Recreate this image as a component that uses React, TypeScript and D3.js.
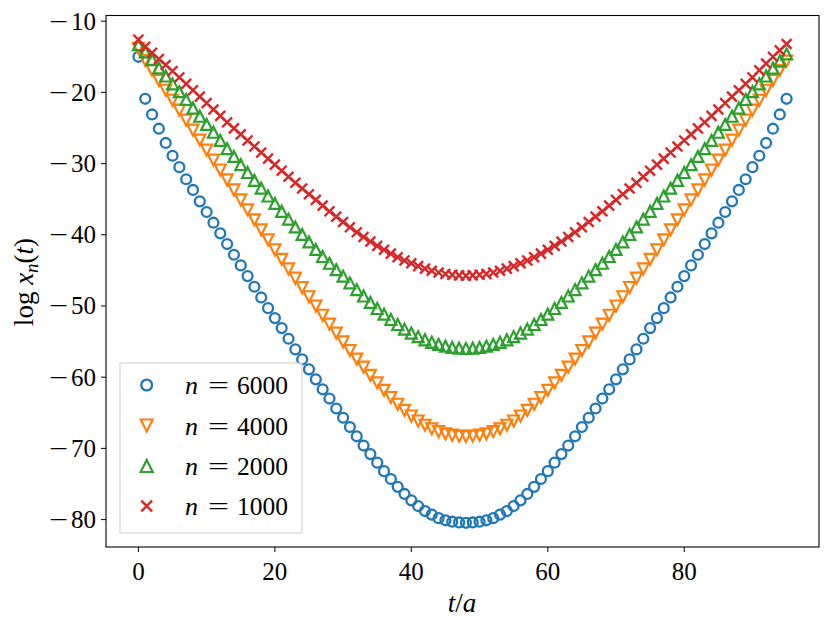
import React from 'react';
import * as d3 from 'd3';

const T_VALUES: number[] = d3.range(0, 96);

const BLUE_6000 = [
  -15.0, -20.9, -23.1, -25.1, -27.1, -28.9, -30.5, -32.2, -33.7, -35.3,
  -36.8, -38.3, -39.8, -41.3, -42.8, -44.3, -45.8, -47.3, -48.8, -50.3,
  -51.7, -53.1, -54.6, -56.1, -57.5, -58.9, -60.3, -61.7, -63.0, -64.4,
  -65.7, -67.0, -68.3, -69.6, -70.8, -72.0, -73.2, -74.3, -75.4, -76.4,
  -77.3, -78.1, -78.8, -79.3, -79.8, -80.1, -80.3, -80.4, -80.45, -80.4,
  -80.3, -80.1, -79.8, -79.3, -78.8, -78.1, -77.3, -76.4, -75.4, -74.3,
  -73.2, -72.0, -70.8, -69.6, -68.3, -67.0, -65.7, -64.4, -63.0, -61.7,
  -60.3, -58.9, -57.5, -56.1, -54.6, -53.1, -51.7, -50.3, -48.8, -47.3,
  -45.8, -44.3, -42.8, -41.3, -39.8, -38.3, -36.8, -35.3, -33.7, -32.2,
  -30.5, -28.9, -27.1, -25.1, -23.1, -20.9,
];

const ORANGE_4000 = [
  -13.8, -15.5, -16.9, -18.3, -19.7, -21.1, -22.5, -23.9, -25.3, -26.7,
  -28.1, -29.5, -30.9, -32.3, -33.7, -35.1, -36.5, -37.9, -39.3, -40.7,
  -42.1, -43.45, -44.8, -46.1, -47.4, -48.7, -50.0, -51.3, -52.55, -53.8,
  -55.05, -56.25, -57.45, -58.6, -59.75, -60.8, -61.85, -62.85, -63.8, -64.65,
  -65.45, -66.15, -66.75, -67.25, -67.65, -67.95, -68.15, -68.28, -68.32, -68.28,
  -68.15, -67.95, -67.65, -67.25, -66.75, -66.15, -65.45, -64.65, -63.8, -62.85,
  -61.85, -60.8, -59.75, -58.6, -57.45, -56.25, -55.05, -53.8, -52.55, -51.3,
  -50.0, -48.7, -47.4, -46.1, -44.8, -43.45, -42.1, -40.7, -39.3, -37.9,
  -36.5, -35.1, -33.7, -32.3, -30.9, -29.5, -28.1, -26.7, -25.3, -23.9,
  -22.5, -21.1, -19.7, -18.3, -16.9, -15.6,
];

const GREEN_2000 = [
  -13.3, -14.3, -15.4, -16.55, -17.7, -18.8, -19.9, -21.0, -22.2, -23.35,
  -24.5, -25.6, -26.75, -27.9, -29.0, -30.15, -31.25, -32.35, -33.45, -34.55,
  -35.6, -36.7, -37.8, -38.9, -39.95, -41.0, -42.05, -43.05, -44.0, -44.9,
  -45.8, -46.75, -47.7, -48.6, -49.5, -50.35, -51.15, -51.9, -52.6, -53.25,
  -53.8, -54.3, -54.75, -55.1, -55.4, -55.65, -55.82, -55.93, -55.97, -55.93,
  -55.82, -55.65, -55.4, -55.1, -54.75, -54.3, -53.8, -53.25, -52.6, -51.9,
  -51.15, -50.35, -49.5, -48.6, -47.7, -46.75, -45.8, -44.9, -44.0, -43.05,
  -42.05, -41.0, -39.95, -38.9, -37.8, -36.7, -35.6, -34.55, -33.45, -32.35,
  -31.25, -30.15, -29.0, -27.9, -26.75, -25.6, -24.5, -23.35, -22.2, -21.0,
  -19.9, -18.8, -17.7, -16.6, -15.6, -14.6,
];

const RED_1000 = [
  -12.6, -13.6, -14.45, -15.3, -16.15, -17.0, -17.9, -18.8, -19.7, -20.6,
  -21.5, -22.4, -23.3, -24.2, -25.05, -25.9, -26.75, -27.6, -28.45, -29.3,
  -30.15, -31.0, -31.85, -32.7, -33.5, -34.3, -35.1, -35.9, -36.7, -37.45,
  -38.2, -38.95, -39.65, -40.3, -40.95, -41.55, -42.1, -42.65, -43.15, -43.6,
  -44.0, -44.4, -44.75, -45.05, -45.3, -45.5, -45.62, -45.7, -45.75, -45.7,
  -45.62, -45.5, -45.3, -45.05, -44.75, -44.4, -44.0, -43.6, -43.15, -42.65,
  -42.1, -41.55, -40.95, -40.3, -39.65, -38.95, -38.2, -37.45, -36.7, -35.9,
  -35.1, -34.3, -33.5, -32.7, -31.85, -31.0, -30.15, -29.3, -28.45, -27.6,
  -26.75, -25.9, -25.05, -24.2, -23.3, -22.4, -21.5, -20.6, -19.7, -18.8,
  -17.9, -16.9, -15.95, -15.0, -14.1, -13.2,
];

const X_TICKS = [0, 20, 40, 60, 80];
const Y_TICKS = [-80, -70, -60, -50, -40, -30, -20, -10];
const LEGEND_LABELS = ['6000', '4000', '2000', '1000'];

type MarkerKind = 'circle' | 'tri-down' | 'tri-up' | 'cross';

const SERIES: { values: number[]; color: string; marker: MarkerKind; label: string }[] = [
  { values: BLUE_6000, color: '#1f77b4', marker: 'circle', label: LEGEND_LABELS[0] },
  { values: ORANGE_4000, color: '#ff7f0e', marker: 'tri-down', label: LEGEND_LABELS[1] },
  { values: GREEN_2000, color: '#2ca02c', marker: 'tri-up', label: LEGEND_LABELS[2] },
  { values: RED_1000, color: '#d62728', marker: 'cross', label: LEGEND_LABELS[3] },
];

const FONT = "'Liberation Serif', 'DejaVu Serif', serif";

function Marker({ kind, x, y, color, s }: { kind: MarkerKind; x: number; y: number; color: string; s: number }) {
  const h = s / 2;
  if (kind === 'circle') {
    return <circle cx={x} cy={y} r={h * 0.9} fill="none" stroke={color} strokeWidth={2.3} />;
  }
  if (kind === 'tri-down') {
    return (
      <path
        d={`M${x - h},${y - h}L${x + h},${y - h}L${x},${y + h}Z`}
        fill="none"
        stroke={color}
        strokeWidth={2.2}
        strokeLinejoin="miter"
      />
    );
  }
  if (kind === 'tri-up') {
    return (
      <path
        d={`M${x - h},${y + h}L${x + h},${y + h}L${x},${y - h}Z`}
        fill="none"
        stroke={color}
        strokeWidth={2.2}
        strokeLinejoin="miter"
      />
    );
  }
  const c = h * 0.9;
  return (
    <path
      d={`M${x - c},${y - c}L${x + c},${y + c}M${x - c},${y + c}L${x + c},${y - c}`}
      stroke={color}
      strokeWidth={2.4}
      fill="none"
    />
  );
}

export default function App() {
  const W = 831;
  const H = 630;
  const left = 106;
  const right = 819;
  const top = 15.5;
  const bottom = 547;

  const x = d3.scaleLinear().domain([-4.75, 99.75]).range([left, right]);
  const y = d3.scaleLinear().domain([-83.85, -9.2]).range([bottom, top]);

  const legend = { x: 120, y: 363, w: 182, h: 170 };
  const rowY = [385, 425.5, 466, 506];

  return (
    <svg
      width={W}
      height={H}
      viewBox={`0 0 ${W} ${H}`}
      style={{ position: 'absolute', left: 0, top: 0, background: '#fff' }}
      fontFamily={FONT}
    >
      <rect x={0} y={0} width={W} height={H} fill="#fff" />

      {SERIES.map((s) => (
        <g key={s.label}>
          {s.values.map((v, i) => (
            <Marker key={i} kind={s.marker} x={x(T_VALUES[i])} y={y(v)} color={s.color} s={11} />
          ))}
        </g>
      ))}

      {/* spines */}
      <rect x={left} y={top} width={right - left} height={bottom - top} fill="none" stroke="#000" strokeWidth={1.1} />

      {/* x ticks */}
      {X_TICKS.map((t) => (
        <g key={`x${t}`}>
          <line x1={x(t)} x2={x(t)} y1={bottom} y2={bottom + 5} stroke="#000" strokeWidth={1} />
          <text x={x(t)} y={580} textAnchor="middle" fontSize={25}>
            {t}
          </text>
        </g>
      ))}

      {/* y ticks */}
      {Y_TICKS.map((t) => (
        <g key={`y${t}`}>
          <line x1={left - 5} x2={left} y1={y(t)} y2={y(t)} stroke="#000" strokeWidth={1} />
          <text x={49} y={y(t) + 8.5} fontSize={25} textLength={19} lengthAdjust="spacingAndGlyphs">
            {'\u2212'}
          </text>
          <text x={96} y={y(t) + 8.5} textAnchor="end" fontSize={25}>
            {Math.abs(t)}
          </text>
        </g>
      ))}

      {/* axis labels */}
      <text x={462} y={612} textAnchor="middle" fontSize={27}>
        <tspan fontStyle="italic">t</tspan>
        <tspan>/</tspan>
        <tspan fontStyle="italic">a</tspan>
      </text>
      <text transform="translate(33,282) rotate(-90)" textAnchor="middle" fontSize={27}>
        <tspan>log </tspan>
        <tspan fontStyle="italic">x</tspan>
        <tspan fontStyle="italic" fontSize={19} dy={5}>n</tspan>
        <tspan dy={-5}>(</tspan>
        <tspan fontStyle="italic">t</tspan>
        <tspan>)</tspan>
      </text>

      {/* legend */}
      <rect
        x={legend.x}
        y={legend.y}
        width={legend.w}
        height={legend.h}
        fill="#fff"
        fillOpacity={0.8}
        stroke="#cccccc"
        strokeWidth={1}
      />
      {SERIES.map((s, i) => (
        <g key={`lg${s.label}`}>
          <Marker kind={s.marker} x={146.7} y={rowY[i]} color={s.color} s={12} />
          <text x={185} y={rowY[i] + 9} fontSize={26} fontStyle="italic">
            n
          </text>
          <text x={208} y={rowY[i] + 9} fontSize={26} textLength={21} lengthAdjust="spacingAndGlyphs">
            =
          </text>
          <text x={237} y={rowY[i] + 9} fontSize={26} textLength={51} lengthAdjust="spacingAndGlyphs">
            {s.label}
          </text>
        </g>
      ))}
    </svg>
  );
}
